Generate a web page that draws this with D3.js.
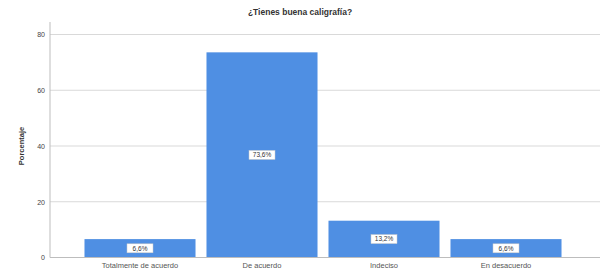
<!DOCTYPE html>
<html>
<head>
<meta charset="utf-8">
<script src="https://cdn.jsdelivr.net/npm/d3@7"></script>
<style>
  body { margin: 0; background: #fff; }
  svg { font-family: "Liberation Sans", Arial, sans-serif; }
</style>
</head>
<body>
<div id="chart"></div>
<script>
var categories = ["Totalmente de acuerdo", "De acuerdo", "Indeciso", "En desacuerdo"];
var values = [6.6, 73.6, 13.2, 6.6];
var yTicks = [0, 20, 40, 60, 80];

var width = 600, height = 272;
var margin = {top: 22, right: 0, bottom: 14, left: 50};

var svg = d3.select("#chart")
  .append("svg")
  .attr("width", width)
  .attr("height", height);

var x = d3.scaleBand()
  .domain(categories)
  .range([79, 567])
  .paddingInner(0.09)
  .paddingOuter(0.045);

var y = d3.scaleLinear()
  .domain([0, 80])
  .range([257.5, 34.5]);

// grid lines
svg.append("g")
  .selectAll("line")
  .data(yTicks)
  .enter()
  .append("line")
  .attr("x1", margin.left)
  .attr("x2", width)
  .attr("y1", d => y(d))
  .attr("y2", d => y(d))
  .attr("stroke", "#d9d9d9")
  .attr("stroke-width", 1);

// y axis
var yAxis = svg.append("g")
  .attr("transform", "translate(" + margin.left + ",0)")
  .call(d3.axisLeft(y).tickValues(yTicks).tickSize(0).tickPadding(5));
yAxis.select(".domain").remove();
yAxis.selectAll("text")
  .attr("font-size", 7)
  .attr("fill", "#444");

svg.append("line")
  .attr("x1", margin.left)
  .attr("x2", margin.left)
  .attr("y1", margin.top)
  .attr("y2", y(0))
  .attr("stroke", "#bdbdbd");

// bars
svg.append("g")
  .selectAll("rect")
  .data(values)
  .enter()
  .append("rect")
  .attr("x", (d, i) => x(categories[i]))
  .attr("y", d => y(d))
  .attr("width", x.bandwidth())
  .attr("height", d => y(0) - y(d))
  .attr("fill", "#4f8fe3");

// baseline
svg.append("line")
  .attr("x1", margin.left)
  .attr("x2", width)
  .attr("y1", y(0))
  .attr("y2", y(0))
  .attr("stroke", "#bdbdbd");

// value labels
var lab = svg.append("g")
  .selectAll("g")
  .data(values)
  .enter()
  .append("g")
  .attr("transform", (d, i) => "translate(" + (x(categories[i]) + x.bandwidth() / 2) + "," + ((y(d) + y(0)) / 2) + ")");

lab.append("rect")
  .attr("x", -13)
  .attr("y", -4.5)
  .attr("width", 26)
  .attr("height", 9)
  .attr("fill", "#fff")
  .attr("stroke", "#c8c8c8")
  .attr("stroke-width", 0.5);

lab.append("text")
  .attr("text-anchor", "middle")
  .attr("dy", "0.35em")
  .attr("font-size", 6.5)
  .attr("fill", "#333")
  .text(d => d3.format(".1f")(d).replace(".", ",") + "%");

// x labels
svg.append("g")
  .selectAll("text")
  .data(categories)
  .enter()
  .append("text")
  .attr("x", d => x(d) + x.bandwidth() / 2)
  .attr("y", 268)
  .attr("text-anchor", "middle")
  .attr("font-size", 7.5)
  .attr("fill", "#555")
  .text(d => d);

// title
svg.append("text")
  .attr("x", 300)
  .attr("y", 15)
  .attr("text-anchor", "middle")
  .attr("font-size", 8.5)
  .attr("font-weight", "bold")
  .attr("fill", "#333")
  .text("¿Tienes buena caligrafía?");

// y title
svg.append("text")
  .attr("transform", "translate(24," + ((y(0) + y(80)) / 2) + ") rotate(-90)")
  .attr("text-anchor", "middle")
  .attr("font-size", 7.5)
  .attr("font-weight", "bold")
  .attr("fill", "#333")
  .text("Porcentaje");
</script>
</body>
</html>
